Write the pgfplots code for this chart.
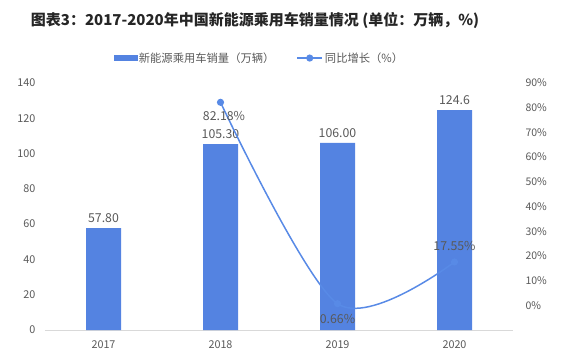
\documentclass[border=0pt]{standalone}
\usepackage{fontspec}
\setmainfont{Noto Sans CJK SC}
\usepackage{pgfplots}
\pgfplotsset{compat=1.18}
\definecolor{barblue}{RGB}{84,131,225}
\definecolor{linblue}{RGB}{88,138,230}
\definecolor{txt}{RGB}{89,89,89}
\definecolor{axgray}{RGB}{217,217,217}
\begin{document}
\begin{tikzpicture}
\useasboundingbox (0,0) rectangle (565bp,363bp);
\node[font=\bfseries\fontsize{15bp}{17bp}\selectfont, text=black!85] at (255bp,343bp) {图表3：2017-2020年中国新能源乘用车销量情况 (单位：万辆，\%)};
\begin{axis}[
  at={(45bp,33bp)}, anchor=south west,
  scale only axis, width=468bp, height=247bp,
  xmin=-0.5, xmax=3.5, ymin=0, ymax=140,
  xtick={0,1,2,3}, xticklabels={2017,2018,2019,2020},
  ytick={0,20,...,140},
  axis y line*=left, axis x line*=bottom,
  y axis line style={draw=none},
  x axis line style={draw=axgray, line width=0.8pt, -},
  major tick length=0pt,
  tick label style={font=\fontsize{10.8bp}{12bp}\selectfont, text=txt},
  /pgf/number format/assume math mode=true,
  yticklabel style={xshift=-6bp},
  xticklabel style={yshift=-7bp},
  clip=false,
]
\addplot[ybar, fill=barblue, draw=none, bar width=35bp,
  nodes near coords, point meta=explicit symbolic,
  every node near coord/.append style={font=\fontsize{12.3bp}{13bp}\selectfont, text=txt, anchor=south, yshift=2bp}]
  table[meta=label] {
x y label
0 57.80 57.80
1 105.30 105.30
2 106.00 106.00
3 124.6 124.6
};
\end{axis}
\begin{axis}[
  at={(45bp,33bp)}, anchor=south west,
  scale only axis, width=468bp, height=247bp,
  xmin=-0.5, xmax=3.5, ymin=-10, ymax=90,
  ytick={0,10,...,90},
  yticklabel={\pgfmathprintnumber{\tick}\%},
  axis y line*=right, axis x line=none,
  y axis line style={draw=none},
  major tick length=0pt,
  tick label style={font=\fontsize{10.5bp}{12bp}\selectfont, text=txt},
  yticklabel style={anchor=west, xshift=9bp},
  /pgf/number format/assume math mode=true,
  clip=false,
  legend style={at={(0.458,1.101)}, anchor=center, draw=none, fill=none,
    font=\fontsize{11.3bp}{13bp}\selectfont, text=txt, legend columns=2,
    /tikz/every even column/.append style={column sep=20bp}},
]
\addlegendimage{legend image code/.code={\fill[barblue] (0bp,-2.5bp) rectangle (23bp,2.5bp);}}
\addlegendentry{新能源乘用车销量（万辆）}
\addplot[color=linblue, line width=1.5pt, smooth, tension=0.5, mark=*, mark size=2.8pt, mark options={fill=linblue, draw=linblue},
  legend image code/.code={\draw[linblue, line width=1.5pt] (0bp,0bp) -- (25bp,0bp); \fill[linblue] (12.5bp,0bp) circle (2.8bp);}]
  coordinates {(1,82.18) (2,0.66) (3,17.55)};
\addlegendentry{同比增长（\%）}
\node[font=\fontsize{12.3bp}{13bp}\selectfont, text=txt] at (axis cs:1.03,76.6) {82.18\%};
\node[font=\fontsize{12.3bp}{13bp}\selectfont, text=txt] at (axis cs:2.0,-5.5) {0.66\%};
\node[font=\fontsize{12.3bp}{13bp}\selectfont, text=txt] at (axis cs:3.0,24.2) {17.55\%};
\end{axis}
\end{tikzpicture}
\end{document}
